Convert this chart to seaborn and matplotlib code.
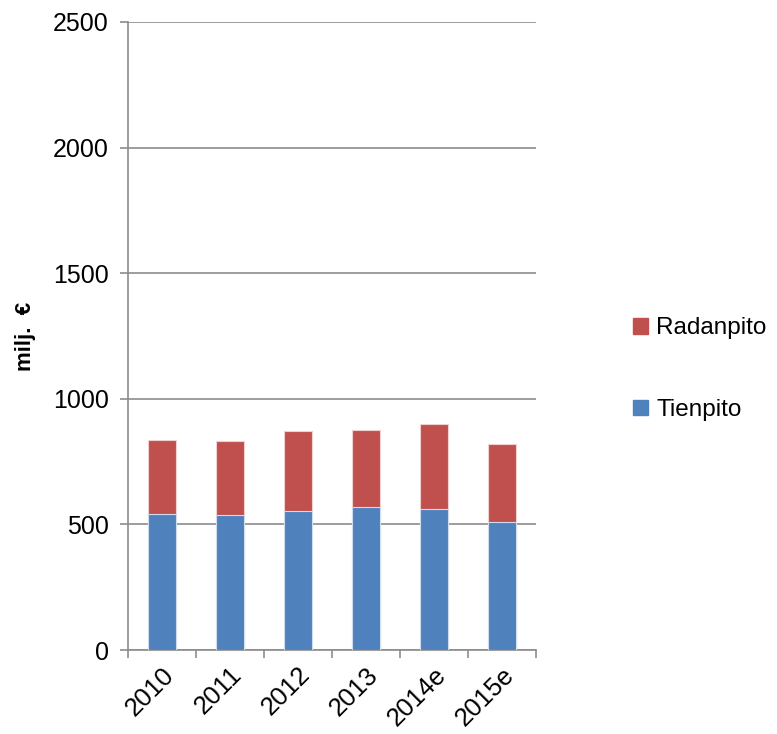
import numpy as np
import pandas as pd
import matplotlib
matplotlib.use('Agg')
import matplotlib.pyplot as plt
import seaborn as sns
from matplotlib.patches import Patch

years = ['2010', '2011', '2012', '2013', '2014e', '2015e']
tienpito = [542, 538, 554, 568, 562, 510]
radanpito = [295, 294, 316, 309, 338, 311]

blue = '#4F81BD'
red = '#C0504D'
grid_col = '#8C8C8C'

sns.set_style('white')
plt.rcParams['font.family'] = ['Liberation Sans', 'DejaVu Sans']
plt.rcParams['text.color'] = 'black'
plt.rcParams['axes.labelcolor'] = 'black'

df = pd.DataFrame({'year': years, 'Tienpito': tienpito, 'Radanpito': radanpito})
df['total'] = df['Tienpito'] + df['Radanpito']

fig = plt.figure(figsize=(7.77, 7.34), dpi=100)
ax = fig.add_axes([128 / 777, 1 - 650 / 734, (536 - 128) / 777, (650 - 22) / 734])

# stacked: full height in red, lower part in blue on top
sns.barplot(data=df, x='year', y='total', color=red, width=0.4, saturation=1,
            edgecolor='#F2D0CF', linewidth=0.8, ax=ax, zorder=3)
sns.barplot(data=df, x='year', y='Tienpito', color=blue, width=0.4, saturation=1,
            edgecolor='#D0DDEE', linewidth=0.8, ax=ax, zorder=3)

ax.set_ylim(0, 2500)
ax.set_xlim(-0.5, len(years) - 0.5)
ax.set_yticks(np.arange(0, 2501, 500))
ax.yaxis.grid(True, color=grid_col, linewidth=1.2, zorder=0)
ax.set_axisbelow(True)

for s in ['top', 'right']:
    ax.spines[s].set_visible(False)
for s in ['left', 'bottom']:
    ax.spines[s].set_color(grid_col)
    ax.spines[s].set_linewidth(1.2)

ax.tick_params(axis='y', left=True, length=6, width=1.2, color=grid_col,
               labelsize=18, pad=8, labelcolor='black')
ax.tick_params(axis='x', which='major', length=0, labelsize=18.5, pad=9, labelcolor='black')
ax.set_xticks(np.arange(-0.5, len(years), 1), minor=True)
ax.tick_params(axis='x', which='minor', bottom=True, length=6, width=1.2, color=grid_col)
plt.setp(ax.get_xticklabels(), rotation=45, ha='right', rotation_mode='anchor')

ax.set_xlabel('')
ax.set_ylabel('milj.  €', fontsize=16, fontweight='bold', labelpad=12)

handles = [Patch(color=red, label='Radanpito'), Patch(color=blue, label='Tienpito')]
fig.legend(handles=handles, loc='center left', bbox_to_anchor=(633 / 777, 0.497),
           frameon=False, fontsize=17.5, labelspacing=2.45, handlelength=0.6,
           handleheight=0.6, handletextpad=0.35, borderpad=0, borderaxespad=0)

fig.savefig('out.png', dpi=100)
